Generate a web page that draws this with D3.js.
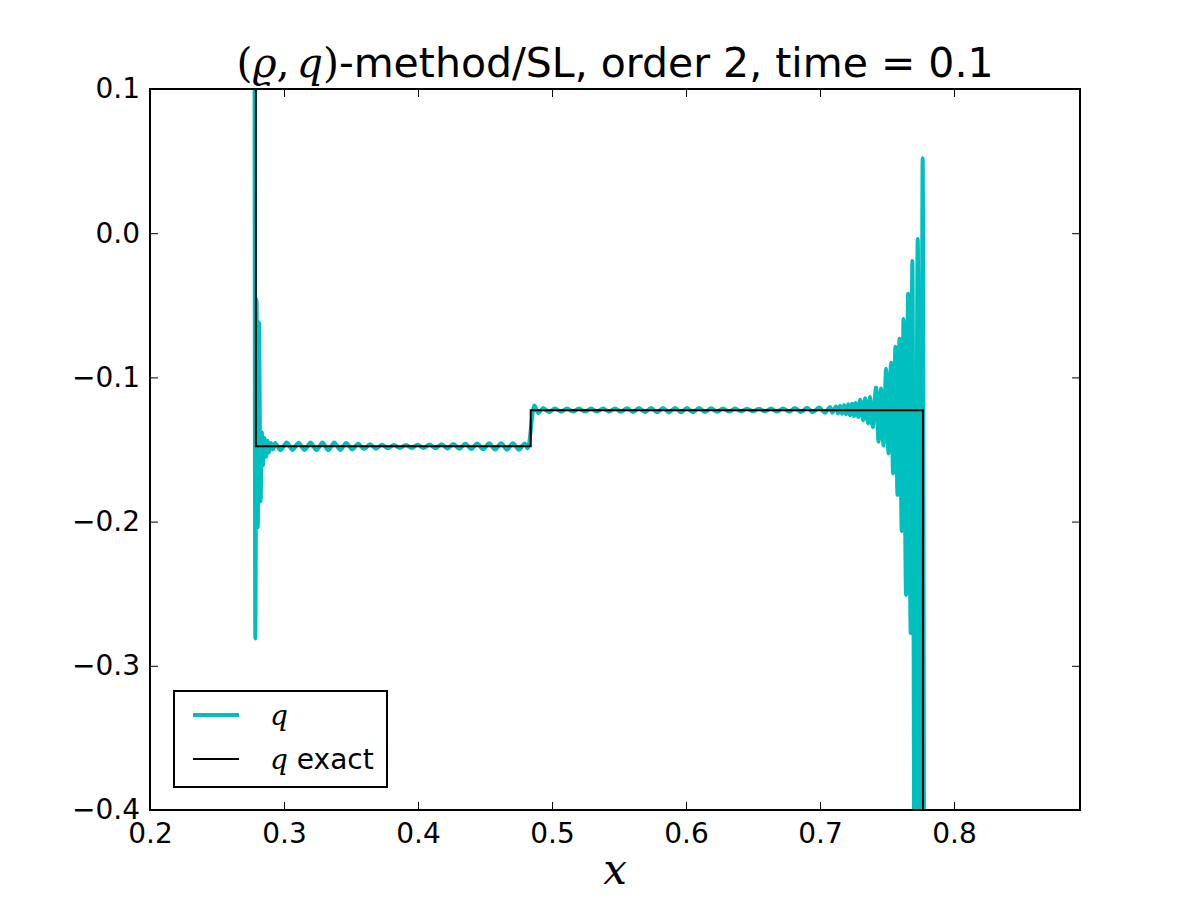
<!DOCTYPE html>
<html>
<head>
<meta charset="utf-8">
<script src="https://cdn.jsdelivr.net/npm/d3@7"></script>
<style>
  body { margin: 0; background: #fff; }
  text { font-family: "DejaVu Sans", sans-serif; }
  .math { font-family: "DejaVu Serif", "Liberation Serif", serif; font-style: italic; }
</style>
</head>
<body>
<div id="chart"></div>
<script>
// numerical solution q
const qX = [
  0.2000, 0.2776, 0.2786, 0.2795, 0.2804, 0.2813, 0.2825, 0.2834, 0.2843, 0.2854,
  0.2866, 0.2877, 0.2888, 0.2903, 0.2918, 0.2933, 0.2974,
  0.3020, 0.3064, 0.3109, 0.3153, 0.3198, 0.3242, 0.3287, 0.3331, 0.3375, 0.3420,
  0.3464, 0.3509, 0.3553, 0.3598, 0.3642, 0.3686, 0.3731, 0.3775, 0.3820, 0.3864,
  0.3909, 0.3953, 0.3997, 0.4042, 0.4086, 0.4131, 0.4175, 0.4220, 0.4264, 0.4309,
  0.4353, 0.4397, 0.4442, 0.4486, 0.4531, 0.4575, 0.4620, 0.4664, 0.4708, 0.4753,
  0.4797, 0.4819, 0.4868, 0.4898, 0.4933, 0.4978,
  0.5022, 0.5067, 0.5112, 0.5157, 0.5201, 0.5246, 0.5291, 0.5336, 0.5381, 0.5425,
  0.5470, 0.5515, 0.5560, 0.5604, 0.5649, 0.5694, 0.5739, 0.5784, 0.5828, 0.5873,
  0.5918, 0.5963, 0.6007, 0.6052, 0.6097, 0.6142, 0.6187, 0.6231, 0.6276, 0.6321,
  0.6366, 0.6410, 0.6455, 0.6500, 0.6545, 0.6590, 0.6634, 0.6679, 0.6724, 0.6769,
  0.6813, 0.6858, 0.6903, 0.6948, 0.6993, 0.7037, 0.7075,
  0.7090, 0.7119, 0.7134, 0.7149, 0.7164, 0.7179, 0.7194, 0.7209, 0.7224, 0.7239,
  0.7254, 0.7265, 0.7286, 0.7299, 0.7323, 0.7336, 0.7360, 0.7373, 0.7393, 0.7418,
  0.7437, 0.7455, 0.7474, 0.7493, 0.7511, 0.7530, 0.7545, 0.7563, 0.7578, 0.7593,
  0.7610, 0.7623, 0.7642, 0.7657, 0.7677, 0.7689, 0.7708, 0.7729, 0.7750, 0.7766,
  0.7780, 0.8940
];
const qY = [
  0.3500, 0.3500, -0.2810, -0.0460, -0.2040, -0.0620, -0.1860, -0.1380, -0.1610, -0.1420,
  -0.1550, -0.1440, -0.1520, -0.1455, -0.1500, -0.1455, -0.1505,
  -0.1452, -0.1503, -0.1453, -0.1504, -0.1452, -0.1505, -0.1451, -0.1505, -0.1452, -0.1503,
  -0.1455, -0.1500, -0.1460, -0.1497, -0.1464, -0.1494, -0.1467, -0.1491, -0.1468, -0.1490,
  -0.1468, -0.1489, -0.1467, -0.1490, -0.1466, -0.1491, -0.1464, -0.1493, -0.1462, -0.1495,
  -0.1460, -0.1497, -0.1458, -0.1499, -0.1457, -0.1500, -0.1456, -0.1501, -0.1456, -0.1502,
  -0.1458, -0.1492, -0.1195, -0.1248, -0.1212, -0.1240,
  -0.1215, -0.1238, -0.1216, -0.1237, -0.1216, -0.1237, -0.1216, -0.1237, -0.1215, -0.1238,
  -0.1215, -0.1239, -0.1214, -0.1240, -0.1213, -0.1240, -0.1213, -0.1241, -0.1212, -0.1241,
  -0.1212, -0.1241, -0.1212, -0.1241, -0.1213, -0.1240, -0.1214, -0.1239, -0.1215, -0.1237,
  -0.1216, -0.1236, -0.1217, -0.1235, -0.1217, -0.1236, -0.1216, -0.1237, -0.1215, -0.1238,
  -0.1213, -0.1240, -0.1211, -0.1242, -0.1208, -0.1245, -0.1205,
  -0.1245, -0.1202, -0.1250, -0.1197, -0.1252, -0.1192, -0.1257, -0.1187, -0.1262, -0.1182,
  -0.1268, -0.1177, -0.1275, -0.1155, -0.1298, -0.1145, -0.1320, -0.1135, -0.1345, -0.1070,
  -0.1445, -0.1077, -0.1473, -0.0940, -0.1528, -0.0898, -0.1665, -0.0787, -0.1815, -0.0732,
  -0.2065, -0.0595, -0.2510, -0.0420, -0.2772, -0.0192, -0.5500, -0.0040, -0.5500, 0.0520,
  -0.5500, -0.5500
];

// exact solution q (piecewise constant)
const exactX = [0.2000, 0.2790, 0.2790, 0.4841, 0.4841, 0.7768, 0.7768, 0.8940];
const exactY = [0.3500, 0.3500, -0.1478, -0.1478, -0.1228, -0.1228, -0.5500, -0.5500];

const xTicks = [0.2, 0.3, 0.4, 0.5, 0.6, 0.7, 0.8];
const yTicks = [0.1, 0.0, -0.1, -0.2, -0.3, -0.4];

const width = 1200;
const height = 900;
const margin = { top: 89, right: 120, bottom: 90, left: 150 };
const innerW = width - margin.left - margin.right;
const innerH = height - margin.top - margin.bottom;

const teal = "#00bfbf";
const fmt = d => d3.format(".1f")(d).replace("-", "\u2212");

const x = d3.scaleLinear().domain([0.2, 0.894]).range([0, innerW]);
const y = d3.scaleLinear().domain([-0.4, 0.1]).range([innerH, 0]);

const svg = d3.select("#chart").append("svg")
  .attr("width", width)
  .attr("height", height);

svg.append("defs").append("clipPath").attr("id", "clip")
  .append("rect").attr("width", innerW).attr("height", innerH);

const g = svg.append("g")
  .attr("transform", `translate(${margin.left},${margin.top})`);

const qData = qX.map((d, i) => [d, qY[i]]);
const exactData = exactX.map((d, i) => [d, exactY[i]]);

const plot = g.append("g").attr("clip-path", "url(#clip)");

// q (numerical)
plot.append("path")
  .datum(qData)
  .attr("fill", "none")
  .attr("stroke", teal)
  .attr("stroke-width", 4)
  .attr("stroke-linejoin", "round")
  .attr("d", d3.line().x(d => x(d[0])).y(d => y(d[1])).curve(d3.curveMonotoneX));

// q exact
plot.append("path")
  .datum(exactData)
  .attr("fill", "none")
  .attr("stroke", "black")
  .attr("stroke-width", 2)
  .attr("d", d3.line().x(d => x(d[0])).y(d => y(d[1])));

// axes, ticks inside on all four sides
const axisStyle = sel => {
  sel.select(".domain").remove();
  sel.selectAll(".tick line").attr("stroke", "black").attr("stroke-width", 1);
  sel.selectAll(".tick text").style("font-size", "28px").attr("fill", "black")
    .style("font-family", "DejaVu Sans");
};

g.append("g")
  .attr("transform", `translate(0,${innerH})`)
  .call(d3.axisBottom(x).tickValues(xTicks).tickFormat(fmt).tickSize(-8).tickPadding(13))
  .call(axisStyle);

g.append("g")
  .call(d3.axisTop(x).tickValues(xTicks).tickFormat("").tickSize(-8))
  .call(axisStyle);

g.append("g")
  .call(d3.axisLeft(y).tickValues(yTicks).tickFormat(fmt).tickSize(-8).tickPadding(10))
  .call(axisStyle);

g.append("g")
  .attr("transform", `translate(${innerW},0)`)
  .call(d3.axisRight(y).tickValues(yTicks).tickFormat("").tickSize(-8))
  .call(axisStyle);

// frame
g.append("rect")
  .attr("width", innerW)
  .attr("height", innerH)
  .attr("fill", "none")
  .attr("stroke", "black")
  .attr("stroke-width", 2);

// title
const title = svg.append("text")
  .attr("x", margin.left + innerW / 2)
  .attr("y", 77)
  .attr("text-anchor", "middle")
  .style("font-size", "41px");
title.append("tspan").attr("class", "math").style("font-style", "normal").text("(");
title.append("tspan").attr("class", "math").text("\u03f1");
title.append("tspan").attr("class", "math").style("font-style", "normal").text(",");
title.append("tspan").attr("class", "math").attr("dx", 7).text("q");
title.append("tspan").attr("class", "math").style("font-style", "normal").text(")");
title.append("tspan").text("-method/SL, order 2, time = 0.1");

// x label
svg.append("text")
  .attr("class", "math")
  .attr("x", margin.left + innerW / 2)
  .attr("y", 884)
  .attr("text-anchor", "middle")
  .style("font-size", "42px")
  .text("x");

// legend
const legend = g.append("g").attr("transform", `translate(24,${innerH - 119})`);
legend.append("rect")
  .attr("width", 213)
  .attr("height", 96)
  .attr("fill", "white")
  .attr("stroke", "black")
  .attr("stroke-width", 2);

const legendItems = [
  { label: "", color: teal, w: 4 },
  { label: " exact", color: "black", w: 2 }
];
legendItems.forEach((d, i) => {
  const ly = 24 + i * 44;
  legend.append("line")
    .attr("x1", 19).attr("x2", 65)
    .attr("y1", ly).attr("y2", ly)
    .attr("stroke", d.color)
    .attr("stroke-width", d.w);
  const t = legend.append("text")
    .attr("x", 96)
    .attr("y", ly + 10)
    .style("font-size", "28px");
  t.append("tspan").attr("class", "math").style("font-size", "28px").text("q");
  t.append("tspan").text(d.label);
});
</script>
</body>
</html>
